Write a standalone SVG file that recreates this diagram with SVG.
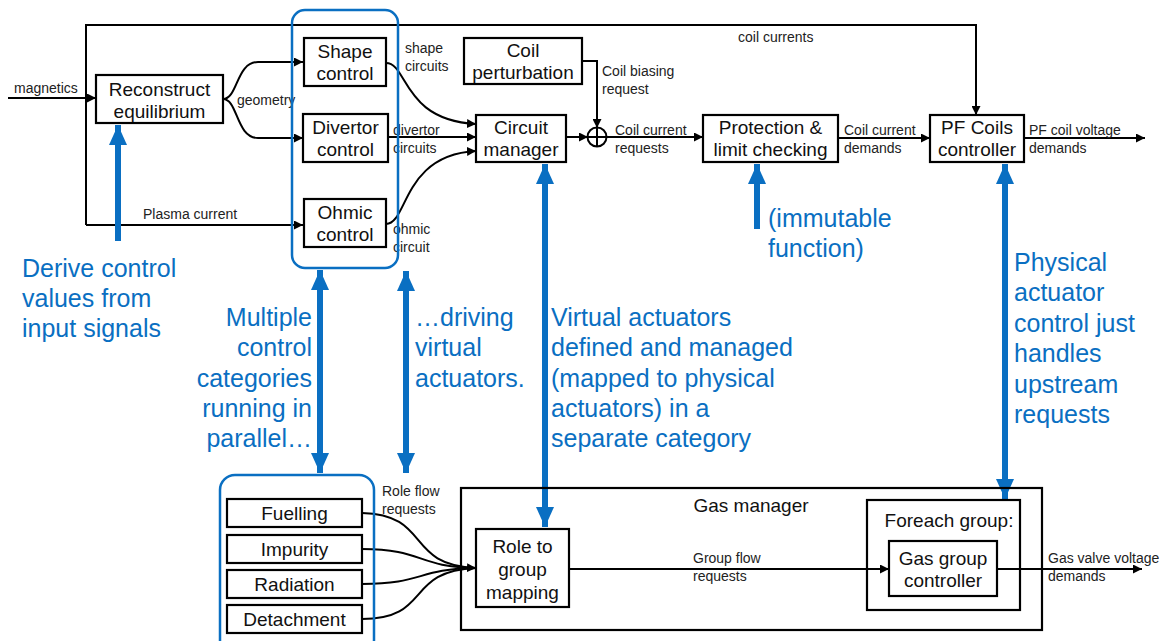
<svg xmlns="http://www.w3.org/2000/svg" width="1168" height="641" viewBox="0 0 1168 641">
<defs>
<style>
.box{fill:#fff;stroke:#000;stroke-width:2.2}
.bt{font-family:"Liberation Sans",Arial,sans-serif;font-size:19px;fill:#111;text-anchor:middle}
.lb{font-family:"Liberation Sans",Arial,sans-serif;font-size:14px;fill:#222}
.bl{font-family:"Liberation Sans",Arial,sans-serif;font-size:25px;fill:#0A6FC2}
.con{fill:none;stroke:#000;stroke-width:2}
.ba{fill:none;stroke:#0A6FC2;stroke-width:6}
.grp{fill:none;stroke:#0A6FC2;stroke-width:2.5}
</style>
<marker id="ah" viewBox="0 0 10 10" refX="10" refY="5" markerWidth="9" markerHeight="9" markerUnits="userSpaceOnUse" orient="auto"><path d="M0,0 L10,5 L0,10 z" fill="#000"/></marker>
<marker id="bh" viewBox="0 0 10 10" refX="10" refY="5" markerWidth="20" markerHeight="20" markerUnits="userSpaceOnUse" orient="auto-start-reverse"><path d="M0,0.5 L10,5 L0,9.5 z" fill="#0A6FC2"/></marker>
</defs>
<rect width="1168" height="641" fill="#fff"/>

<g id="connectors">
<path class="con" d="M8,98 H96" marker-end="url(#ah)"/>
<path class="con" d="M86,225 V25 H976 V115" marker-end="url(#ah)"/>
<path class="con" d="M86,225 H303" marker-end="url(#ah)"/>
<path class="con" d="M223,99 C238,99 236,62 258,62 L303,62" marker-end="url(#ah)"/>
<path class="con" d="M223,99 C238,99 236,138 258,138 L303,138" marker-end="url(#ah)"/>
<path class="con" d="M386,63 C408,63 402,120 476,124" marker-end="url(#ah)"/>
<path class="con" d="M388,137 H476" marker-end="url(#ah)"/>
<path class="con" d="M386,224 C408,224 402,155 476,151" marker-end="url(#ah)"/>
<path class="con" d="M582,61 H597 V128" marker-end="url(#ah)"/>
<path class="con" d="M566,137 H588" marker-end="url(#ah)"/>
<path class="con" d="M606,137 H703" marker-end="url(#ah)"/>
<path class="con" d="M838,138 H930" marker-end="url(#ah)"/>
<path class="con" d="M1024,138 H1145" marker-end="url(#ah)"/>
<path class="con" d="M362,513 C432,515 404,565 476,568" marker-end="url(#ah)"/>
<path class="con" d="M362,549 C424,549 416,567 476,568"/>
<path class="con" d="M362,584 C424,584 416,569 476,568"/>
<path class="con" d="M362,619 C432,619 404,571 476,568"/>
<path class="con" d="M569,569 H889" marker-end="url(#ah)"/>
<path class="con" d="M997,569 H1142" marker-end="url(#ah)"/>
<g id="sum">
<circle cx="597" cy="137" r="9.5" fill="#fff" stroke="#000" stroke-width="2"/>
<path d="M587.5,137 H606.5 M597,127.5 V146.5" stroke="#000" stroke-width="2"/>
</g>
<path class="ba" d="M118,241 V125" marker-end="url(#bh)"/>
<path class="ba" d="M320,270 V473" marker-start="url(#bh)" marker-end="url(#bh)"/>
<path class="ba" d="M406,271 V473" marker-start="url(#bh)" marker-end="url(#bh)"/>
<path class="ba" d="M545,164 V527" marker-start="url(#bh)" marker-end="url(#bh)"/>
<path class="ba" d="M757,229 V164" marker-end="url(#bh)"/>
<path class="ba" d="M1005,164 V499" marker-start="url(#bh)" marker-end="url(#bh)"/>
</g>

<g id="labels">
<text class="lb" x="14" y="93">magnetics</text>
<text class="lb" x="237" y="105">geometry</text>
<text class="lb" x="143" y="219">Plasma current</text>
<text class="lb" x="405" y="53">shape</text>
<text class="lb" x="405" y="71">circuits</text>
<text class="lb" x="393" y="135">divertor</text>
<text class="lb" x="393" y="153">circuits</text>
<text class="lb" x="393" y="234">ohmic</text>
<text class="lb" x="393" y="252">circuit</text>
<text class="lb" x="602" y="76">Coil biasing</text>
<text class="lb" x="602" y="94">request</text>
<text class="lb" x="615" y="135">Coil current</text>
<text class="lb" x="615" y="153">requests</text>
<text class="lb" x="738" y="42">coil currents</text>
<text class="lb" x="844" y="135">Coil current</text>
<text class="lb" x="844" y="153">demands</text>
<text class="lb" x="1029" y="135">PF coil voltage</text>
<text class="lb" x="1029" y="153">demands</text>
<text class="lb" x="382" y="496">Role flow</text>
<text class="lb" x="382" y="514">requests</text>
<text class="lb" x="693" y="563">Group flow</text>
<text class="lb" x="693" y="581">requests</text>
<text class="lb" x="1048" y="563">Gas valve voltage</text>
<text class="lb" x="1048" y="581">demands</text>
</g>

<g id="notes">
<text class="bl" x="22" y="277">Derive control</text>
<text class="bl" x="22" y="307">values from</text>
<text class="bl" x="22" y="337">input signals</text>
<g text-anchor="end">
<text class="bl" x="312" y="326">Multiple</text>
<text class="bl" x="312" y="356">control</text>
<text class="bl" x="312" y="387">categories</text>
<text class="bl" x="312" y="417">running in</text>
<text class="bl" x="312" y="447">parallel…</text>
</g>
<text class="bl" x="415" y="326">…driving</text>
<text class="bl" x="415" y="356">virtual</text>
<text class="bl" x="415" y="387">actuators.</text>
<text class="bl" x="551" y="326">Virtual actuators</text>
<text class="bl" x="551" y="356">defined and managed</text>
<text class="bl" x="551" y="387">(mapped to physical</text>
<text class="bl" x="551" y="417">actuators) in a</text>
<text class="bl" x="551" y="447">separate category</text>
<text class="bl" x="768" y="227">(immutable</text>
<text class="bl" x="768" y="257">function)</text>
<text class="bl" x="1014" y="271">Physical</text>
<text class="bl" x="1014" y="301">actuator</text>
<text class="bl" x="1014" y="332">control just</text>
<text class="bl" x="1014" y="362">handles</text>
<text class="bl" x="1014" y="393">upstream</text>
<text class="bl" x="1014" y="423">requests</text>
</g>

<rect id="group-top" class="grp" x="292" y="10" width="106" height="258" rx="13"/>
<rect id="group-bottom" class="grp" x="220" y="475" width="154" height="180" rx="15"/>

<g id="reconstruct"><rect class="box" x="96" y="75" width="127" height="48"/><text class="bt" x="159.5" y="96">Reconstruct</text><text class="bt" x="159.5" y="118">equilibrium</text></g>
<g id="shape"><rect class="box" x="304" y="38" width="82" height="48"/><text class="bt" x="345" y="58">Shape</text><text class="bt" x="345" y="80">control</text></g>
<g id="divertor"><rect class="box" x="303" y="114" width="85" height="48"/><text class="bt" x="345.5" y="134">Divertor</text><text class="bt" x="345.5" y="156">control</text></g>
<g id="ohmic"><rect class="box" x="304" y="199" width="82" height="48"/><text class="bt" x="345" y="219">Ohmic</text><text class="bt" x="345" y="241">control</text></g>
<g id="coilpert"><rect class="box" x="464" y="38" width="118" height="46"/><text class="bt" x="523" y="57">Coil</text><text class="bt" x="523" y="79">perturbation</text></g>
<g id="circuit"><rect class="box" x="476" y="115" width="90" height="47"/><text class="bt" x="521" y="134">Circuit</text><text class="bt" x="521" y="156">manager</text></g>
<g id="protection"><rect class="box" x="703" y="115" width="135" height="47"/><text class="bt" x="770.5" y="134">Protection &amp;</text><text class="bt" x="770.5" y="156">limit checking</text></g>
<g id="pfcoils"><rect class="box" x="930" y="115" width="94" height="47"/><text class="bt" x="977" y="134">PF Coils</text><text class="bt" x="977" y="156">controller</text></g>

<g id="fuelling"><rect class="box" x="227" y="499" width="135" height="28"/><text class="bt" x="294.5" y="520">Fuelling</text></g>
<g id="impurity"><rect class="box" x="227" y="535" width="135" height="28"/><text class="bt" x="294.5" y="556">Impurity</text></g>
<g id="radiation"><rect class="box" x="227" y="570" width="135" height="28"/><text class="bt" x="294.5" y="591">Radiation</text></g>
<g id="detachment"><rect class="box" x="227" y="605" width="135" height="28"/><text class="bt" x="294.5" y="626">Detachment</text></g>

<g id="gasmanager"><rect class="box" x="461" y="488" width="581" height="142" style="fill:none"/><text class="bt" x="751" y="512">Gas manager</text></g>
<g id="role"><rect class="box" x="476" y="529" width="93" height="78"/><text class="bt" x="522.5" y="553">Role to</text><text class="bt" x="522.5" y="576">group</text><text class="bt" x="522.5" y="599">mapping</text></g>
<g id="foreach"><rect class="box" x="867" y="500" width="153" height="110" style="fill:none"/><text class="bt" x="949" y="527">Foreach group:</text></g>
<g id="gasgroup"><rect class="box" x="889" y="541" width="108" height="55"/><text class="bt" x="943" y="565">Gas group</text><text class="bt" x="943" y="587">controller</text></g>
</svg>
